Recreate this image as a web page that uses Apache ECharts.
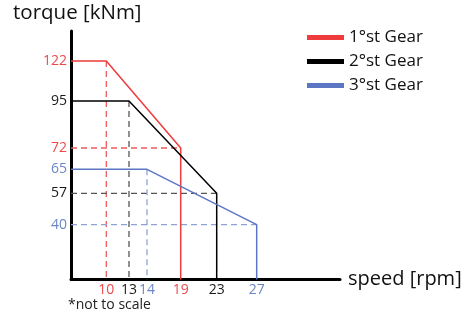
<!DOCTYPE html>
<html>
<head>
<meta charset="utf-8">
<script src="https://cdn.jsdelivr.net/npm/echarts@6/dist/echarts.min.js"></script>
<style>html,body{margin:0;padding:0;background:#fff}#c{width:466px;height:318px}</style>
</head>
<body>
<div id="c"></div>
<script>
// ---- data ----
const gearNames = ['1°st Gear', '2°st Gear', '3°st Gear'];
const ratedTorque = [122, 95, 65];     // kNm, flat part
const baseSpeed = [10, 13, 14];        // rpm, end of flat part
const maxSpeed = [19, 23, 27];         // rpm, end of curve
const torqueAtMax = [72, 57, 40];      // kNm at max speed
const speedTicks = [10, 13, 14, 19, 23, 27];
const speedTickGear = [0, 1, 2, 0, 1, 2];
const torqueTicks = [122, 95, 72, 65, 57, 40];
const torqueTickGear = [0, 1, 0, 2, 1, 2];

// ---- layout: "not to scale" axis warp (value -> axis position) ----
const xWarpVal = [0, 10, 13, 14, 19, 23, 27];
const xWarpPos = [0, 35.3, 58, 76, 109.7, 145.7, 185.7];
const yWarpVal = [0, 40, 57, 65, 72, 95, 122];
const yWarpPos = [0, 54.8, 86.2, 110.2, 131.5, 178.5, 218.5];
const xAxisLen = 269, yAxisLen = 248.5;

const gearColors = ['#ee3b3b', '#000000', '#5b76c2'];
const labelColors = ['#ec4a4a', '#1a1a1a', '#6b86c6'];
const dashColors = ['#f05a5a', '#555555', '#8ea2d8'];

function warp(v, vals, pos) {
  for (let i = 1; i < vals.length; i++) {
    if (v <= vals[i]) {
      const t = (v - vals[i - 1]) / (vals[i] - vals[i - 1]);
      return pos[i - 1] + t * (pos[i] - pos[i - 1]);
    }
  }
  const n = vals.length - 1;
  return pos[n] + (v - vals[n]) * (pos[n] - pos[n - 1]) / (vals[n] - vals[n - 1]);
}
const wx = v => warp(v, xWarpVal, xWarpPos);
const wy = v => warp(v, yWarpVal, yWarpPos);
const pt = (s, t) => [wx(s), wy(t)];

const series = [];
// dashed projection lines
gearNames.forEach((g, i) => {
  const dash = {
    type: 'line', symbol: 'none', silent: true, animation: false, z: 1,
    lineStyle: { color: dashColors[i], width: 1.3, type: [6, 4] }
  };
  series.push(Object.assign({}, dash, { name: g + ' base', data: [pt(baseSpeed[i], ratedTorque[i]), pt(baseSpeed[i], 0)] }));
  series.push(Object.assign({}, dash, { name: g + ' end', data: [pt(0, torqueAtMax[i]), pt(maxSpeed[i], torqueAtMax[i])] }));
});
// solid gear curves
gearNames.forEach((g, i) => {
  series.push({
    name: g, type: 'line', symbol: 'none', animation: false, z: 3,
    color: gearColors[i],
    lineStyle: { color: gearColors[i], width: 1.5 },
    data: [pt(0, ratedTorque[i]), pt(baseSpeed[i], ratedTorque[i]),
           pt(maxSpeed[i], torqueAtMax[i]), pt(maxSpeed[i], 0)]
  });
});

const rich = {};
labelColors.forEach((c, i) => { rich['g' + i] = { color: c, fontSize: 14, fontFamily: 'Open Sans' }; });

function tickFormatter(ticks, gears, w) {
  return v => {
    for (let k = 0; k < ticks.length; k++) {
      if (Math.abs(w(ticks[k]) - v) < 0.01) return '{g' + gears[k] + '|' + ticks[k] + '}';
    }
    return '';
  };
}

const chart = echarts.init(document.getElementById('c'), null, { renderer: 'canvas' });
chart.setOption({
  animation: false,
  backgroundColor: '#ffffff',
  grid: { left: 71, right: 126, top: 31, bottom: 38.5, containLabel: false },
  xAxis: {
    type: 'value', min: 0, max: xAxisLen,
    name: 'speed [rpm]', nameLocation: 'end', nameGap: 8,
    nameTextStyle: { fontSize: 20, fontFamily: 'Open Sans', color: '#111', verticalAlign: 'middle' },
    axisLine: { show: true, onZero: false, lineStyle: { color: '#000', width: 3 } },
    axisTick: { show: false },
    splitLine: { show: false },
    axisLabel: {
      customValues: speedTicks.map(wx), margin: 4,
      formatter: tickFormatter(speedTicks, speedTickGear, wx), rich: rich
    }
  },
  yAxis: {
    type: 'value', min: 0, max: yAxisLen,
    axisLine: { show: true, onZero: false, lineStyle: { color: '#000', width: 3 } },
    axisTick: { show: false },
    splitLine: { show: false },
    axisLabel: {
      customValues: torqueTicks.map(wy), margin: 4,
      formatter: tickFormatter(torqueTicks, torqueTickGear, wy), rich: rich
    }
  },
  legend: {
    data: gearNames, orient: 'vertical', left: 302, top: 23,
    icon: 'rect', itemWidth: 37, itemHeight: 5, itemGap: 5,
    textStyle: { fontSize: 17, fontFamily: 'Open Sans', color: '#111', lineHeight: 19 }
  },
  graphic: [
    { type: 'text', left: 13, top: 3, style: { text: 'torque [kNm]', fontSize: 20.5, fontFamily: 'Open Sans', fill: '#111' } },
    { type: 'text', left: 68, top: 298, style: { text: '*not to scale', fontSize: 14, fontFamily: 'Open Sans', fill: '#222' } }
  ],
  series: series
});
</script>
</body>
</html>
